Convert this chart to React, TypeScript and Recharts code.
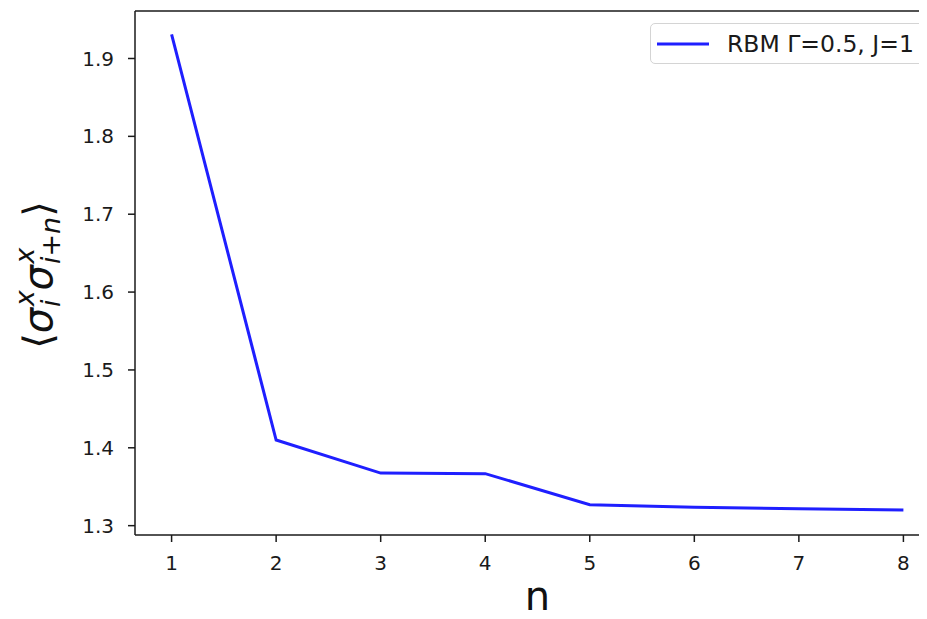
import { LineChart, Line, XAxis, YAxis, ReferenceLine } from 'recharts';

const nValues = [1, 2, 3, 4, 5, 6, 7, 8];
const correlation = [1.931, 1.41, 1.3675, 1.3668, 1.3269, 1.3236, 1.3218, 1.3201];
const xTicks = [1, 2, 3, 4, 5, 6, 7, 8];
const yTicks = [1.3, 1.4, 1.5, 1.6, 1.7, 1.8, 1.9];
const seriesName = 'RBM Γ=0.5, J=1';
const seriesColor = '#1f1fff';

const chartData = nValues.map((n, i) => ({ n, value: correlation[i] }));

const FONT = '"DejaVu Sans", sans-serif';
const AXIS = '#1a1a1a';
const Y_DOMAIN: [number, number] = [1.288, 1.961];

const YLabel = ({ viewBox }: any) => {
  const cx = 38;
  const cy = viewBox.y + viewBox.height / 2 + 2;
  return (
    <text
      x={cx}
      y={cy}
      transform={`rotate(-90, ${cx}, ${cy})`}
      textAnchor="middle"
      dominantBaseline="central"
      fontFamily={FONT}
      fontSize={40}
      fill="#111"
    >
      <tspan>⟨</tspan>
      <tspan fontStyle="italic">σ</tspan>
      <tspan fontSize={27} fontStyle="italic" dx={1} dy={12}>i</tspan>
      <tspan fontSize={27} fontStyle="italic" dx={-7} dy={-26}>x</tspan>
      <tspan fontStyle="italic" dy={14}>σ</tspan>
      <tspan fontSize={27} fontStyle="italic" dx={1} dy={12}>i</tspan>
      <tspan fontSize={27}>+</tspan>
      <tspan fontSize={27} fontStyle="italic">n</tspan>
      <tspan fontSize={27} fontStyle="italic" dx={-47} dy={-26}>x</tspan>
      <tspan dx={31} dy={14}>⟩</tspan>
    </text>
  );
};

export default function App() {
  return (
    <div
      style={{
        margin: -8,
        width: 927,
        height: 619,
        overflow: 'hidden',
        position: 'relative',
        background: '#fff',
      }}
    >
      <LineChart
        width={942}
        height={619}
        data={chartData}
        margin={{ top: 11, right: 2, left: 0, bottom: 0 }}
      >
        <XAxis
          dataKey="n"
          type="number"
          domain={[0.65, 8.35]}
          ticks={xTicks}
          allowDataOverflow
          height={84}
          tickSize={7}
          tickMargin={14}
          tickLine={{ stroke: AXIS, strokeWidth: 1.5 }}
          axisLine={{ stroke: AXIS, strokeWidth: 1.5 }}
          tick={{ fontFamily: FONT, fontSize: 20, fill: '#1a1a1a' }}
          label={{
            value: 'n',
            position: 'insideBottom',
            offset: 9,
            style: { fontFamily: FONT, fontSize: 40, fill: '#111' },
          }}
        />
        <YAxis
          type="number"
          domain={Y_DOMAIN}
          ticks={yTicks}
          allowDataOverflow
          width={135}
          tickSize={7}
          tickMargin={14}
          tickLine={{ stroke: AXIS, strokeWidth: 1.5 }}
          axisLine={{ stroke: AXIS, strokeWidth: 1.5 }}
          tick={{ fontFamily: FONT, fontSize: 20, fill: '#1a1a1a' }}
          tickFormatter={(v: number) => v.toFixed(1)}
          label={{ content: YLabel }}
        />
        <ReferenceLine y={Y_DOMAIN[1]} stroke={AXIS} strokeWidth={1.5} ifOverflow="visible" />
        <ReferenceLine x={8.35} stroke={AXIS} strokeWidth={1.5} ifOverflow="visible" />
        <Line
          type="linear"
          dataKey="value"
          name={seriesName}
          stroke={seriesColor}
          strokeWidth={3}
          dot={false}
          isAnimationActive={false}
        />
      </LineChart>
      <div
        style={{
          position: 'absolute',
          left: 650,
          top: 23,
          width: 276,
          height: 41,
          boxSizing: 'border-box',
          border: '1.5px solid #d4d4d4',
          borderRadius: 5,
          background: 'rgba(255,255,255,0.8)',
          display: 'flex',
          alignItems: 'center',
          fontFamily: FONT,
          fontSize: 23.5,
          color: '#1a1a1a',
        }}
      >
        <svg width={70} height={10} style={{ marginLeft: 6 }}>
          <line x1={0} y1={5} x2={52} y2={5} stroke={seriesColor} strokeWidth={3} />
        </svg>
        <span>{seriesName}</span>
      </div>
    </div>
  );
}
